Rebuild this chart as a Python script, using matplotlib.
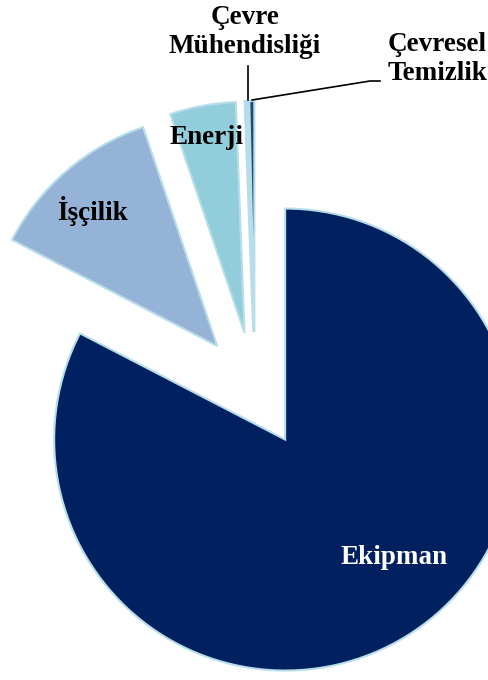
import matplotlib.pyplot as plt

# cost shares (%)
labels = ['Ekipman', 'İşçilik', 'Enerji', 'Çevre\nMühendisliği', 'Çevresel\nTemizlik']
shares = [82.6, 12.2, 4.6, 0.25, 0.35]
colors = ['#002060', '#95b3d7', '#92cddc', '#b7dee8', '#1f497d']

W, H = 489, 680
fig = plt.figure(figsize=(W / 100, H / 100), dpi=100)
ax = fig.add_axes([0, 0, 1, 1])

# pie in pixel units; explode is in data units here, so 58 px for each slice
center = (255, H - 390)
radius = 231
wedges, _ = ax.pie(shares, colors=colors, startangle=90, counterclock=False,
                   explode=[58] * len(shares), center=center, radius=radius,
                   wedgeprops=dict(edgecolor='#b7dee8', linewidth=1.5))

# pie() resets the limits, so set them afterwards
ax.set_xlim(0, W)
ax.set_ylim(0, H)
ax.set_aspect('equal')
ax.axis('off')

font = dict(family='Liberation Serif', fontweight='bold', fontsize=19.5)

ax.text(394, H - 557, labels[0], color='white', ha='center', va='center', **font)
ax.text(93, H - 211, labels[1], color='black', ha='center', va='center', **font)
ax.text(206, H - 138, labels[2], color='black', ha='center', va='center', **font)
ax.text(245, H - 32, labels[3], color='black', ha='center', va='center',
        linespacing=1.25, **font)
ax.text(437, H - 59, labels[4], color='black', ha='center', va='center',
        linespacing=1.25, **font)

# leader lines to the two thin slices
ax.plot([248, 248], [H - 66, H - 100], color='black', lw=1.2)
ax.plot([252, 370, 380], [H - 100, H - 81, H - 81], color='black', lw=1.2)

fig.savefig('out.png', dpi=100)
